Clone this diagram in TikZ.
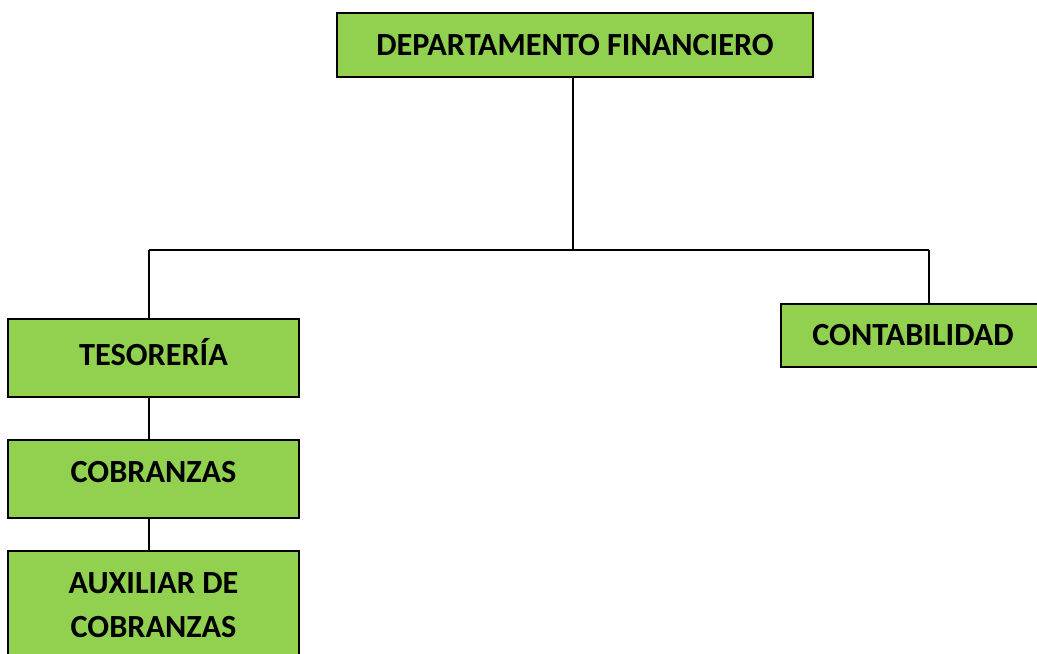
\documentclass[tikz,border=0pt]{standalone}
\usepackage{fontspec}
\setmainfont{Carlito}
\usetikzlibrary{positioning}
\definecolor{boxgreen}{HTML}{92D050}

\begin{document}
\begin{tikzpicture}[
  x=0.75pt, y=-0.75pt,
  box/.style = {draw, line width=1.2pt, fill=boxgreen, inner sep=0pt, align=center,
                font=\bfseries\fontsize{24.2}{33.5}\selectfont},
  tag/.style = {font=\bfseries\fontsize{24.2}{33.5}\selectfont},
  link/.style = {line width=1pt}
]
  \useasboundingbox (0,0) rectangle (1037,653);

  % Head of the department
  \node[box, minimum width=357pt, minimum height=48pt] (dept) at (575,45) {DEPARTAMENTO FINANCIERO};

  % Second level
  \node[box, minimum width=218.25pt, minimum height=58.5pt,
        label={[tag, yshift=4.5pt]center:TESORERÍA}] (tes) at (153.5,358) {};
  \node[box, minimum width=198pt, minimum height=47.25pt] (cont) at (913,335.5) {CONTABILIDAD};

  % Under Tesorería
  \node[box, minimum width=218.25pt, minimum height=58.5pt,
        label={[tag, yshift=5pt]center:COBRANZAS}] (cob) at (153.5,479) {};
  \node[box, minimum width=218.25pt, minimum height=81pt] (aux) at (153.5,605) {AUXILIAR DE\\COBRANZAS};

  % Connectors
  \coordinate (busL) at (149,250);
  \coordinate (busR) at (929,250);
  \draw[link] ([xshift=-1.5pt]dept.south) -- ([xshift=-1.5pt]dept.south |- busL);
  \draw[link] (busL) -- (busR);
  \draw[link] (busL) -- (busL |- tes.north);
  \draw[link] (busR) -- (busR |- cont.north);
  \draw[link] (busL |- tes.south) -- (busL |- cob.north);
  \draw[link] (busL |- cob.south) -- (busL |- aux.north);

\end{tikzpicture}
\end{document}
